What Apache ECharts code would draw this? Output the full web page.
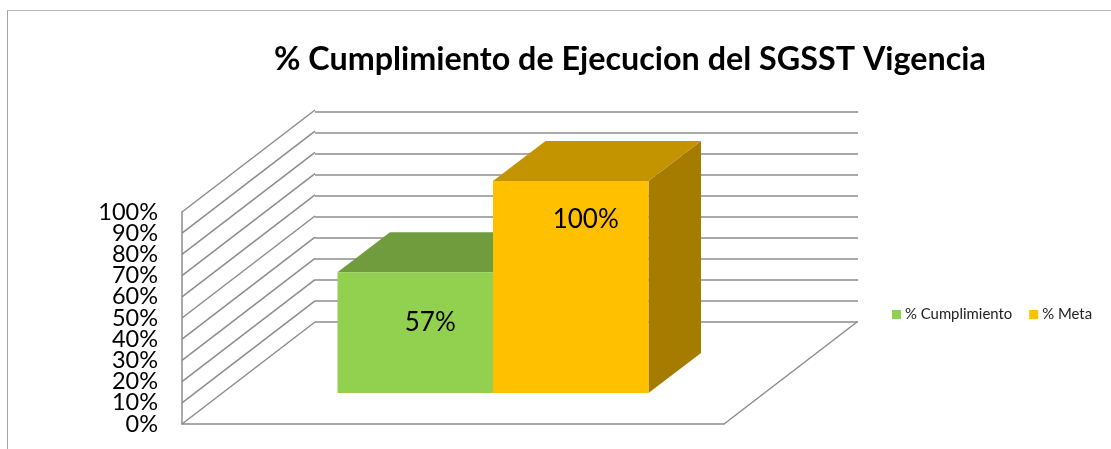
<!DOCTYPE html>
<html><head><meta charset="utf-8">
<style>html,body{margin:0;padding:0;background:#fff}#c{width:1111px;height:449px}</style>
<script src="https://cdn.jsdelivr.net/npm/echarts@6/dist/echarts.min.js"></script>
</head><body><div id="c"></div>
<script>
const titleText = '% Cumplimiento de Ejecucion del SGSST Vigencia';
const categories = ['Vigencia'];
const seriesNames = ['% Cumplimiento', '% Meta'];
const cumplimiento = [57];
const meta = [100];
const tickValues = [0,10,20,30,40,50,60,70,80,90,100];
const tickLabels = ['0%','10%','20%','30%','40%','50%','60%','70%','80%','90%','100%'];

const GRID = '#8c8c8c';
const WALL = {dx:133, dy:-102};
const BAR_SHIFT = {dx:40, dy:-31};
const BAR_DEPTH = {dx:52.5, dy:-40};
const BAR_W = 155.5;

function wallItem(params, api){
  const v = api.value(0);
  const p = api.coord([0, v]);
  const x0 = params.coordSys.x, y = p[1];
  const st = {stroke:GRID, lineWidth:1.5, fill:null};
  const kids = [{type:'polyline', shape:{points:[[x0,y],[x0+WALL.dx,y+WALL.dy]]}, style:st}];
  if(v===0){
    const x1 = x0+params.coordSys.width;
    kids.push({type:'polyline', shape:{points:[[x1,y],[x1+WALL.dx,y+WALL.dy]]}, style:st});
  }
  return {type:'group', children:kids};
}
function barRender(slot, face, top, side, labelDy){
  return function(params, api){
    const b = api.coord([0,0]), t = api.coord([0,api.value(1)]);
    const x0 = b[0]+BAR_SHIFT.dx+slot*BAR_W, x1 = x0+BAR_W;
    const yb = b[1]+BAR_SHIFT.dy, yt = t[1]+BAR_SHIFT.dy;
    const d = BAR_DEPTH;
    return {type:'group', children:[
      {type:'polygon', shape:{points:[[x1,yb],[x1+d.dx,yb+d.dy],[x1+d.dx,yt+d.dy],[x1,yt]]}, style:{fill:side}},
      {type:'polygon', shape:{points:[[x0,yt],[x0+d.dx,yt+d.dy],[x1+d.dx,yt+d.dy],[x1,yt]]}, style:{fill:top}},
      {type:'rect', shape:{x:x0,y:yt,width:BAR_W,height:yb-yt}, style:{fill:face}},
      {type:'text', style:{text:api.value(1)+'%', x:x0+BAR_W/2+15, y:yt+labelDy, align:'center', verticalAlign:'middle',
        font:'26px Lato', fill:'#000'}}
    ]};
  };
}
const chart = echarts.init(document.getElementById('c'), null, {renderer:'canvas'});
chart.setOption({
  animation:false,
  backgroundColor:'#fff',
  title:{text:titleText, left:274, top:44, padding:0, textStyle:{fontFamily:'Lato', fontWeight:'bold', fontSize:32.3, color:'#000'}},
  legend:{left:892, top:307, padding:0, itemWidth:9, itemHeight:9, itemGap:17, itemStyle:{borderWidth:0}, icon:'rect', data:seriesNames,
    textStyle:{fontFamily:'Lato', fontSize:14.9, color:'#222', padding:[0,0,0,-1]}},
  graphic:[
    {type:'line', shape:{x1:7.5,y1:10,x2:7.5,y2:449}, style:{stroke:'#a6a6a6',lineWidth:1}},
    {type:'line', shape:{x1:7,y1:10.5,x2:1111,y2:10.5}, style:{stroke:'#b5b5b5',lineWidth:1}}
  ],
  grid:[
    {left:182, top:212, width:542, height:212},
    {left:315, top:112, width:543, height:210}
  ],
  xAxis:[
    {type:'category', gridIndex:0, data:categories, axisTick:{show:false}, axisLabel:{show:false},
      axisLine:{show:true, lineStyle:{color:GRID, width:1.5}}},
    {type:'category', gridIndex:1, data:categories, show:false}
  ],
  yAxis:[
    {type:'value', gridIndex:0, min:0, max:100, interval:10, splitLine:{show:false}, axisTick:{show:false},
      axisLine:{show:true, lineStyle:{color:GRID, width:1.5}}, axisLabel:{show:false}},
    {type:'value', gridIndex:1, min:0, max:100, interval:10, axisLabel:{show:false}, axisLine:{show:false}, axisTick:{show:false},
      splitLine:{show:true, showMinLine:true, showMaxLine:true, lineStyle:{color:GRID, width:1.5, type:'solid'}}},
    {type:'category', gridIndex:0, position:'left', data:tickLabels, boundaryGap:false, axisLine:{show:false}, axisTick:{show:false}, splitLine:{show:false},
      axisLabel:{show:true, interval:0, margin:24, fontFamily:'Lato', fontSize:23.5, color:'#000', hideOverlap:false}}
  ],
  series:[
    {type:'custom', name:'wall', xAxisIndex:0, yAxisIndex:0, data:tickValues.map(v=>[v]), renderItem:wallItem, z:1, silent:true,
      encode:{y:0}, clip:false},
    {type:'custom', name:seriesNames[0], xAxisIndex:0, yAxisIndex:0, itemStyle:{color:'#92D050'}, z:3, clip:false,
      data:cumplimiento.map((v,i)=>[i,v]), encode:{x:0,y:1}, renderItem:barRender(-1,'#92D050','#709C3D','#5E8232',50)},
    {type:'custom', name:seriesNames[1], xAxisIndex:0, yAxisIndex:0, itemStyle:{color:'#FFC000'}, z:4, clip:false,
      data:meta.map((v,i)=>[i,v]), encode:{x:0,y:1}, renderItem:barRender(0,'#FFC000','#C49300','#A67C00',39)}
  ]
});
</script></body></html>
